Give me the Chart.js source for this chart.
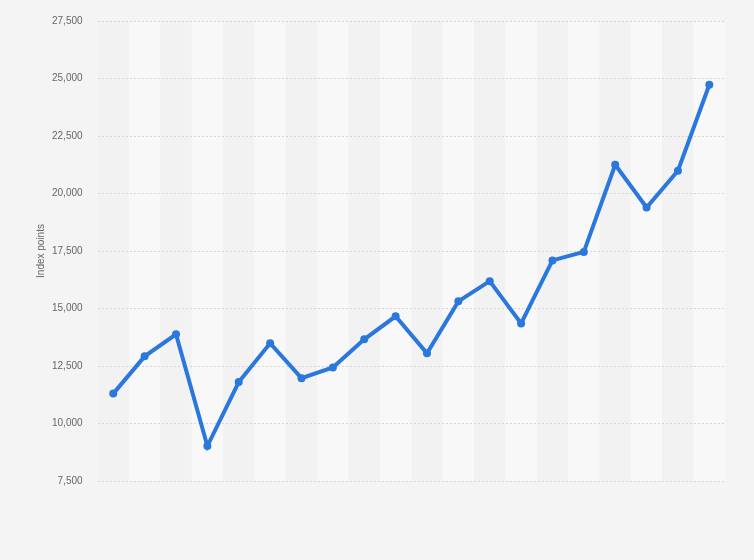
<!DOCTYPE html>
<html>
<head>
<meta charset="utf-8">
<script src="https://cdn.jsdelivr.net/npm/chart.js@4"></script>
<style>
  html, body { margin: 0; padding: 0; background: #f4f4f4; }
  #wrap { width: 754px; height: 560px; }
</style>
</head>
<body>
<div id="wrap"><canvas id="indexChart"></canvas></div>
<script>
// 20 yearly points, no category labels shown in the chart
const categories = Array.from({ length: 20 }, (_, i) => String(i + 1));
const indexValues = [11300, 12920, 13880, 9020, 11800, 13490, 11970, 12440, 13660, 14660,
                     13050, 15310, 16190, 14350, 17090, 17460, 21250, 19390, 20990, 24730];
const yTicks = [7500, 10000, 12500, 15000, 17500, 20000, 22500, 25000, 27500];

// alternating column bands behind the plot
const bandPlugin = {
  id: "bands",
  beforeDraw(chart) {
    const { ctx, chartArea, scales } = chart;
    const x = scales.x;
    const step = x.getPixelForValue(1) - x.getPixelForValue(0);
    ctx.save();
    categories.forEach((c, i) => {
      const cx = x.getPixelForValue(i);
      ctx.fillStyle = i % 2 ? "#f8f8f8" : "#f2f2f2";
      ctx.fillRect(cx - step / 2, chartArea.top, step, chartArea.bottom - chartArea.top);
    });
    ctx.restore();
  }
};

new Chart(document.getElementById("indexChart"), {
  type: "line",
  data: {
    labels: categories,
    datasets: [{
      label: "Index points",
      data: indexValues,
      borderColor: "#2a77dd",
      backgroundColor: "#2a77dd",
      borderWidth: 4,
      pointRadius: 4,
      pointBorderWidth: 0,
      pointHoverRadius: 4,
      tension: 0,
      fill: false
    }]
  },
  options: {
    responsive: true,
    maintainAspectRatio: false,
    animation: false,
    layout: { padding: { top: 14, right: 29, bottom: 71, left: 33 } },
    plugins: { legend: { display: false }, tooltip: { enabled: false } },
    scales: {
      x: {
        offset: true,
        grid: { display: false },
        border: { display: false },
        ticks: { display: false }
      },
      y: {
        min: 7500,
        max: 27500,
        afterBuildTicks(axis) { axis.ticks = yTicks.map(v => ({ value: v })); },
        border: { display: false, dash: [2, 2] },
        grid: { color: "#d6d6d6", lineWidth: 1, drawTicks: false },
        ticks: {
          color: "#666",
          padding: 15,
          font: { family: "Arial, 'Liberation Sans', sans-serif", size: 10 },
          callback: v => v.toLocaleString("en-US")
        },
        title: {
          display: true,
          text: "Index points",
          color: "#666",
          padding: { top: 2, bottom: -10 },
          font: { family: "Arial, 'Liberation Sans', sans-serif", size: 10 }
        }
      }
    }
  },
  plugins: [bandPlugin]
});
</script>
</body>
</html>
